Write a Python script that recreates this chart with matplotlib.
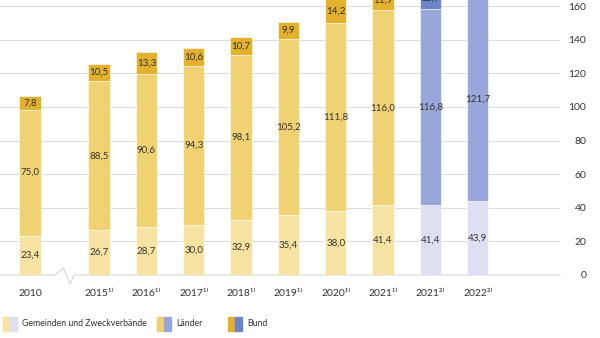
import matplotlib.pyplot as plt
from matplotlib.patches import Rectangle

years = ['2010', '2015¹⁾', '2016¹⁾', '2017¹⁾', '2018¹⁾',
         '2019¹⁾', '2020¹⁾', '2021¹⁾', '2021²⁾', '2022²⁾']
gemeinden = [23.4, 26.7, 28.7, 30.0, 32.9, 35.4, 38.0, 41.4, 41.4, 43.9]
laender = [75.0, 88.5, 90.6, 94.3, 98.1, 105.2, 111.8, 116.0, 116.8, 121.7]
bund = [7.8, 10.5, 13.3, 10.6, 10.7, 9.9, 14.2, 11.9, 12.9, 13.0]
is_new = [False] * 8 + [True] * 2
legend_names = ['Gemeinden und Zweckverbände', 'Länder', 'Bund']

yellow = ['#f6e3a1', '#f1d273', '#e4b12c']
blue = ['#dedff2', '#98a6da', '#6b86c8']

plt.rcParams['font.family'] = ['Lato', 'DejaVu Sans']

fig = plt.figure(figsize=(6, 3.38), dpi=100)
ax = fig.add_axes([0, 63 / 338, 560 / 600, 275 / 338])

# 2010 stands apart from the rest (axis break)
xpos = [0] + [1.46 + i for i in range(9)]
w = 0.45

for i, x in enumerate(xpos):
    cols = blue if is_new[i] else yellow
    vals = [gemeinden[i], laender[i], bund[i]]
    bottom = 0
    for v, c in zip(vals, cols):
        ax.bar(x, v, w, bottom=bottom, color=c, edgecolor='white', linewidth=0.4, zorder=3)
        ax.text(x, bottom + v / 2, f'{v:.1f}'.replace('.', ','), ha='center', va='center',
                fontsize=7, color='#333333', zorder=4)
        bottom += v

ax.set_ylim(0, 163.6)
ax.set_xlim(-0.634, 11.2)

for v in range(20, 161, 20):
    ax.axhline(v, color='#dddddd', lw=0.8, zorder=1)
# baseline with break zigzag
ax.plot([-0.634, 0.53, 0.70, 0.85, 0.93, 11.2], [0, 0, 4.2, -5.4, 0, 0],
        color='#d5d5d5', lw=0.8, zorder=2, clip_on=False)

ax.set_yticks(range(0, 161, 20))
ax.yaxis.tick_right()
ax.tick_params(axis='y', length=0, pad=19, labelsize=7.5, labelcolor='#333333')
for lab in ax.get_yticklabels():
    lab.set_horizontalalignment('right')
ax.set_xticks(xpos)
ax.set_xticklabels(years)
ax.tick_params(axis='x', length=0, pad=10, labelsize=7.5, labelcolor='#333333')
for s in ax.spines.values():
    s.set_visible(False)

# legend with split swatches
leg_x = [3, 157, 228]
for k, (lx, name) in enumerate(zip(leg_x, legend_names)):
    fig.patches.append(Rectangle((lx / 600, (338 - 331) / 338), 7 / 600, 14 / 338,
                                 color=yellow[k], transform=fig.transFigure))
    fig.patches.append(Rectangle(((lx + 7) / 600, (338 - 331) / 338), 7 / 600, 14 / 338,
                                 color=blue[k], transform=fig.transFigure))
    fig.text((lx + 19) / 600, (338 - 324) / 338, name, fontsize=6.3, color='#333333',
             va='center', ha='left')

fig.savefig('out.png', dpi=100)
